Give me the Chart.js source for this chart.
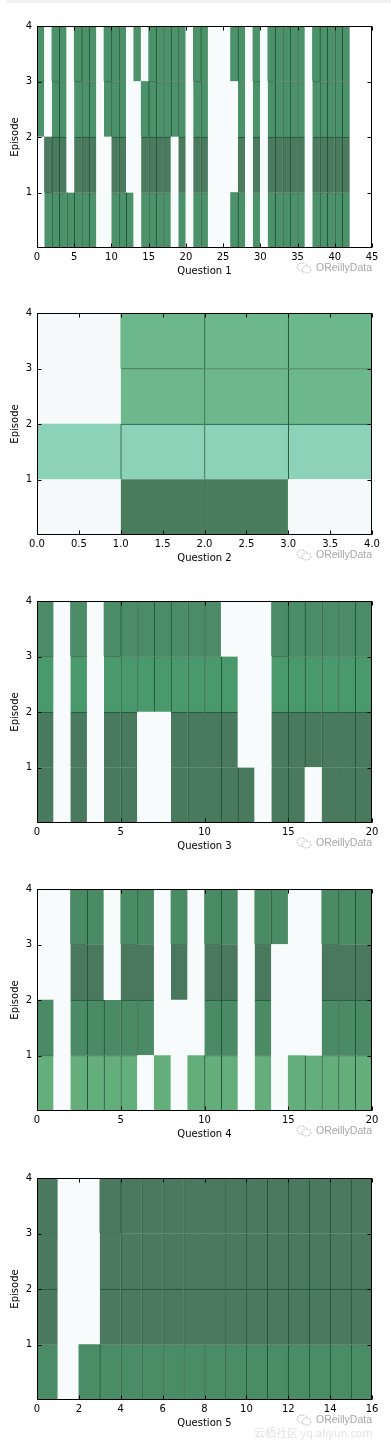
<!DOCTYPE html>
<html><head><meta charset="utf-8">
<script src="https://cdn.jsdelivr.net/npm/chart.js@4.4.0/dist/chart.umd.min.js"></script>
<style>
html,body{margin:0;padding:0;background:#fff;}
body{width:391px;height:1451px;position:relative;overflow:hidden;font-family:"DejaVu Sans",sans-serif;}
canvas{position:absolute;left:0;}
.topbar{position:absolute;left:6px;top:0;width:385px;height:3px;background:#f1f1f1;}
.wm{position:absolute;left:296px;height:14px;font:10.5px "Liberation Sans",Arial,sans-serif;color:#a6a6a6;white-space:nowrap;line-height:14px;}
.wm svg{vertical-align:middle;margin-right:4px;}
.foot{position:absolute;left:254px;top:1424px;font:11px "Noto Sans CJK SC",sans-serif;color:#e4e4e4;white-space:nowrap;}
</style></head><body>
<div class="topbar"></div>
<canvas id="c0" width="391" height="265"></canvas>
<canvas id="c1" width="391" height="265"></canvas>
<canvas id="c2" width="391" height="265"></canvas>
<canvas id="c3" width="391" height="265"></canvas>
<canvas id="c4" width="391" height="265"></canvas>
<div class="foot">云栖社区 yq.aliyun.com</div>
<script>
// ---- data ----
const episodeEdges = [0, 1, 2, 3, 4];
const episodeTicks = [1, 2, 3, 4];
const panelTitles = ['Question 1', 'Question 2', 'Question 3', 'Question 4', 'Question 5'];

const q1TickLabels = ['0','5','10','15','20','25','30','35','40','45'];
const q2TickLabels = ['0.0','0.5','1.0','1.5','2.0','2.5','3.0','3.5','4.0'];
const q3TickLabels = ['0','5','10','15','20'];
const q4TickLabels = ['0','5','10','15','20'];
const q5TickLabels = ['0','2','4','6','8','10','12','14','16'];

// levels per episode row (row 0 = episode 0-1 at bottom), one value per question
const q1Levels = [
  [0,1,1,1,1,1,1,1,0,0,1,1,1,0,1,1,1,1,0,1,0,1,1,0,0,0,1,1,0,1,0,1,1,1,1,1,0,1,1,1,1,1],
  [0,2,2,2,0,2,2,2,0,0,2,2,0,0,2,2,2,2,0,2,0,2,2,0,0,0,0,2,0,2,0,2,2,2,2,2,0,2,2,2,2,2],
  [1,0,1,1,0,1,1,1,0,1,1,1,0,0,1,1,1,1,1,1,0,1,1,0,0,0,0,1,0,1,0,1,1,1,1,1,0,1,1,1,1,1],
  [1,0,1,1,0,1,1,1,0,1,1,1,0,1,0,1,1,1,1,1,0,1,1,0,0,0,1,1,0,1,0,1,1,1,1,1,0,1,1,1,1,1]
];
const q2Levels = [
  [0,3,3,0],
  [1,1,1,1],
  [0,2,2,2],
  [0,2,2,2]
];
const q3Levels = [
  [1,0,1,0,1,1,0,0,1,1,1,1,1,0,1,1,0,1,1,1],
  [1,0,1,0,1,1,0,0,1,1,1,1,0,0,1,1,1,1,1,1],
  [2,0,2,0,2,2,2,2,2,2,2,2,0,0,2,2,2,2,2,2],
  [3,0,3,0,3,3,3,3,3,3,3,0,0,0,3,3,3,3,3,3]
];
const q4Levels = [
  [1,0,1,1,1,1,0,1,0,1,1,1,0,1,0,1,1,1,1,1],
  [2,0,2,2,2,2,2,0,0,0,2,2,0,2,0,0,0,2,2,2],
  [0,0,3,3,0,3,3,0,3,0,3,3,0,3,0,0,0,3,3,3],
  [0,0,2,2,0,2,2,0,2,0,2,2,0,2,2,0,0,2,2,2]
];
const q5Levels = [
  [1,0,1,1,1,1,1,1,1,1,1,1,1,1,1,1],
  [2,0,0,2,2,2,2,2,2,2,2,2,2,2,2,2],
  [2,0,0,2,2,2,2,2,2,2,2,2,2,2,2,2],
  [2,0,0,2,2,2,2,2,2,2,2,2,2,2,2,2]
];

// ---- styles ----
const q1Colors = ['#f7fbfc', '#4b9169', '#4b7a5f'];
const q2Colors = ['#f7fafa', '#8cd2b9', '#6cb78b', '#4a7c5e'];
const q3Colors = ['#f7fbfc', '#4a7a5e', '#4a996c', '#4b8b67'];
const q4Colors = ['#f7fbfc', '#63ae7b', '#4a8b66', '#4a785e'];
const q5Colors = ['#f7fbfc', '#4a8c66', '#4a7960'];
const edgeColor = '#1d5535';
const plotTops = [26, 313, 601, 889, 1178];

const panels = [
  {levels: q1Levels, colors: q1Colors, ticks: q1TickLabels},
  {levels: q2Levels, colors: q2Colors, ticks: q2TickLabels},
  {levels: q3Levels, colors: q3Colors, ticks: q3TickLabels},
  {levels: q4Levels, colors: q4Colors, ticks: q4TickLabels},
  {levels: q5Levels, colors: q5Colors, ticks: q5TickLabels}
];

const framePlugin = {
  id: 'frame',
  afterDatasetsDraw(chart) {
    const {ctx, chartArea: a} = chart;
    const xs = chart.scales.xt, ys = chart.scales.y;
    ctx.save();
    ctx.strokeStyle = '#000';
    ctx.lineWidth = 1;
    const L = Math.round(a.left) + 0.5, R = Math.round(a.right) - 0.5;
    const T = Math.round(a.top) + 0.5, B = Math.round(a.bottom) - 0.5;
    ctx.strokeRect(L, T, R - L, B - T);
    ctx.beginPath();
    xs.ticks.forEach(t => {
      const px = Math.round(xs.getPixelForValue(t.value)) + 0.5;
      ctx.moveTo(px, B); ctx.lineTo(px, B - 4);
      ctx.moveTo(px, T); ctx.lineTo(px, T + 4);
    });
    ys.ticks.forEach(t => {
      const py = Math.round(ys.getPixelForValue(t.value)) + 0.5;
      ctx.moveTo(L, py); ctx.lineTo(L + 4, py);
      ctx.moveTo(R, py); ctx.lineTo(R - 4, py);
    });
    ctx.stroke();
    ctx.restore();
  }
};

panels.forEach((p, k) => {
  const canvas = document.getElementById('c' + k);
  canvas.style.top = (plotTops[k] - 12) + 'px';
  const tickVals = p.ticks.map(Number);
  const xMax = tickVals[tickVals.length - 1];
  const datasets = p.levels.map((row, r) => ({
    data: row.map((lv, i) => ({x: i + 0.5, y: [episodeEdges[r], episodeEdges[r + 1]]})),
    backgroundColor: row.map(lv => p.colors[lv]),
    borderColor: edgeColor,
    borderSkipped: false,
    borderWidth: ctx => {
      const i = ctx.dataIndex;
      const on = row[i] > 0;
      return {
        left: (on && i > 0 && row[i - 1] > 0) ? 1 : 0,
        top: (on && r < p.levels.length - 1 && p.levels[r + 1][i] > 0) ? 1 : 0,
        right: 0, bottom: 0
      };
    },
    grouped: false,
    barPercentage: 1,
    categoryPercentage: 1
  }));
  new Chart(canvas, {
    type: 'bar',
    data: {datasets},
    plugins: [framePlugin],
    options: {
      responsive: false,
      animation: false,
      events: [],
      layout: {padding: {top: 12, left: 0, right: 19, bottom: 0}},
      plugins: {legend: {display: false}, tooltip: {enabled: false}},
      scales: {
        x: {
          type: 'linear', display: false, min: 0, max: xMax, offset: false,
          ticks: {stepSize: xMax}
        },
        xt: {
          type: 'linear', position: 'bottom', axis: 'x', min: 0, max: xMax, offset: false,
          grid: {display: false, drawTicks: false},
          border: {display: false},
          afterBuildTicks: s => { s.ticks = tickVals.map(v => ({value: v})); },
          afterFit: s => { s.height = 31; },
          ticks: {
            autoSkip: false, maxRotation: 0, minRotation: 0, padding: 3,
            color: '#000', font: {family: 'DejaVu Sans', size: 10},
            callback: (v, i) => p.ticks[i]
          },
          title: {display: true, text: panelTitles[k], color: '#000',
                  font: {family: 'DejaVu Sans', size: 10}, padding: {top: 0, bottom: 2}}
        },
        y: {
          type: 'linear', min: 0, max: 4,
          grid: {display: false, drawTicks: false},
          border: {display: false},
          afterBuildTicks: s => { s.ticks = episodeTicks.map(v => ({value: v})); },
          afterFit: s => { s.width = 37; },
          ticks: {padding: 5, color: '#000', font: {family: 'DejaVu Sans', size: 10},
                  callback: v => String(v)},
          title: {display: true, text: 'Episode', color: '#000',
                  font: {family: 'DejaVu Sans', size: 10}, padding: {top: 9, bottom: 0}}
        }
      }
    }
  });
  const wm = document.createElement('div');
  wm.className = 'wm';
  wm.style.top = (plotTops[k] + 234) + 'px';
  wm.innerHTML = '<svg width="16" height="12" viewBox="0 0 16 12"><ellipse cx="6" cy="5" rx="5" ry="4" fill="none" stroke="#b5b5b5" stroke-width="0.9" stroke-dasharray="2 1"/><ellipse cx="10.5" cy="7.5" rx="4.5" ry="3.5" fill="#fff" stroke="#b5b5b5" stroke-width="0.9" stroke-dasharray="2 1"/></svg>OReillyData';
  document.body.appendChild(wm);
});
</script>
</body></html>
